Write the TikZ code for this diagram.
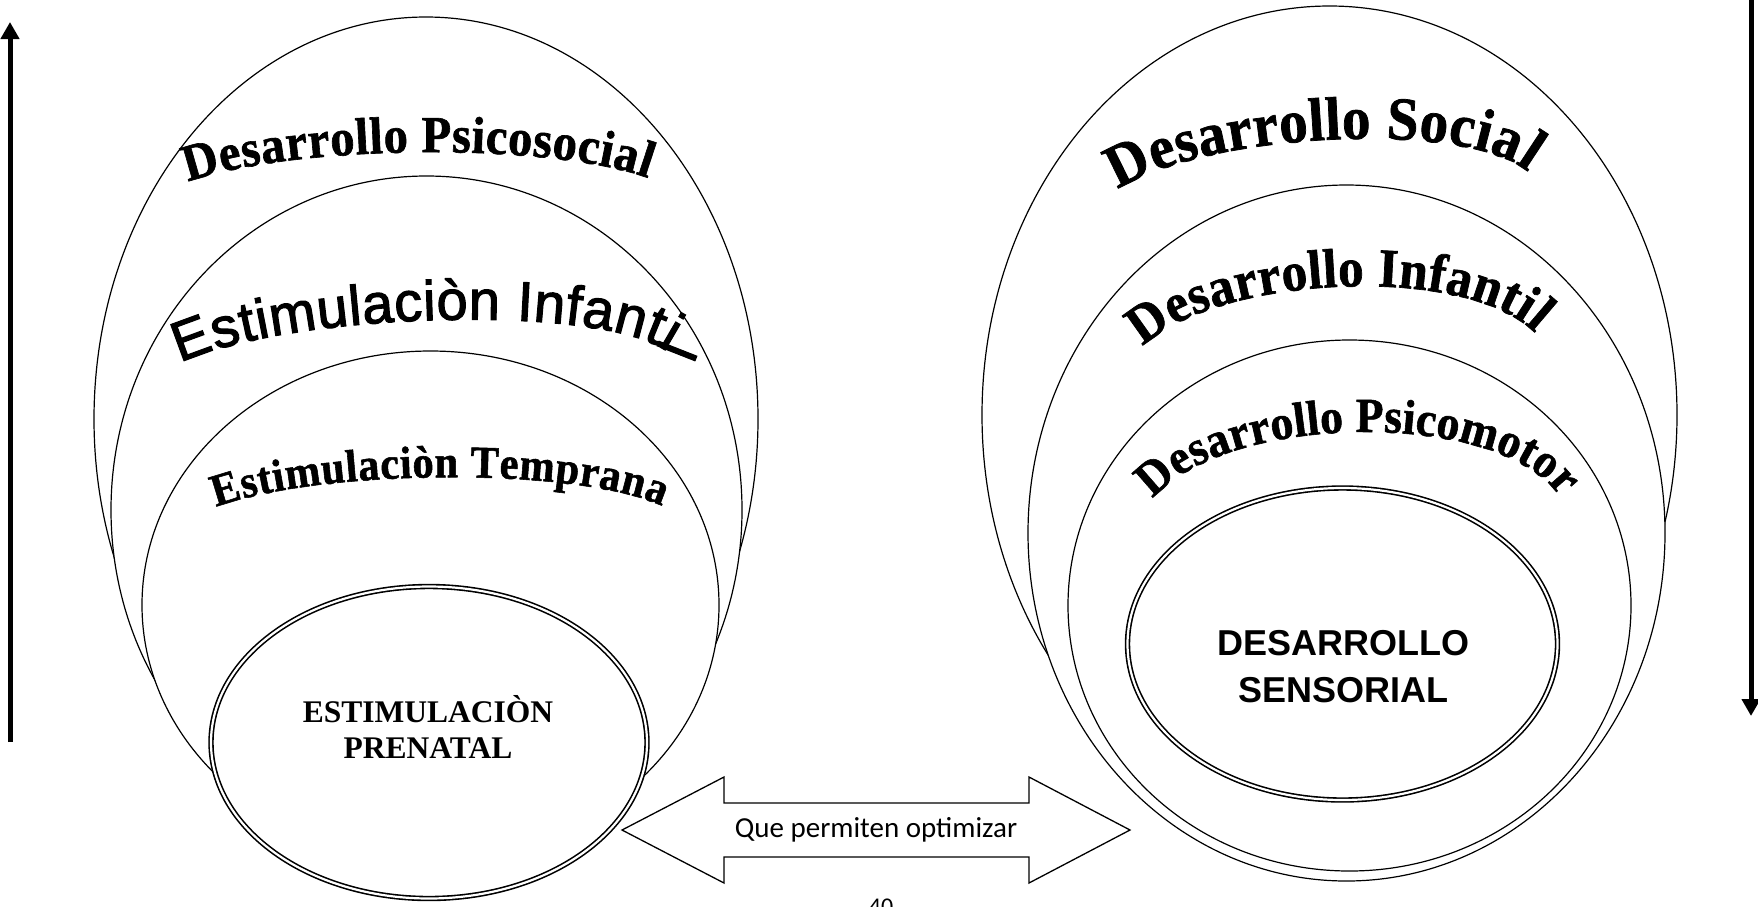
\documentclass[tikz,border=0pt]{standalone}
\usepackage{fontspec}
\usetikzlibrary{shapes.geometric,decorations.text,arrows.meta}
\newfontfamily\serfam{Liberation Serif}
\newfontfamily\serstr[FakeStretch=0.93,FakeBold=1.2]{Liberation Serif}
\newfontfamily\sanfam{Liberation Sans}
\newfontfamily\sanheavy[FakeBold=2]{Liberation Sans}
\newfontfamily\calfam{Carlito}
\begin{document}
\begin{tikzpicture}[x=1pt,y=-1pt,
  ring/.style={ellipse, draw, fill=white, line width=1.2pt, inner sep=0pt, outer sep=0pt},
  dring/.style={ellipse, draw, fill=white, double, line width=1.6pt, double distance=2.2pt, inner sep=0pt, outer sep=0pt},
  bigarrow/.style={line width=5pt, -{Triangle[length=17pt,width=18pt]}},
  arch/.style={decorate, decoration={text along path, text align={fit to path}, text={#1}}},
  centertxt/.style={anchor=base, inner sep=0pt}]
\useasboundingbox (0,0) rectangle (1758,906);

% ---------- left group ----------
\node (A) [ring, minimum width=664pt, minimum height=804pt] at (426,419) {};
\node (B) [ring, minimum width=631pt, minimum height=668pt] at (426.5,510) {};
\node (C) [ring, minimum width=577pt, minimum height=508pt] at (430.5,605) {};
\node (D) [dring, minimum width=436pt, minimum height=312pt] at (429,742.5) {};

\path[arch={|\serstr\bfseries\fontsize{52}{55}\selectfont|Desarrollo Psicosocial}]
  (188,182) .. controls (290,145) and (546,141) .. (648,178);
\path[arch={|\sanheavy\fontsize{56}{60}\selectfont|Estimulaciòn Infanti}]
  (180,363) .. controls (287,313) and (597,302) .. (668,352);
\node (lEnd) [font=\sanheavy\fontsize{56}{60}\selectfont, rotate=-111.5, inner sep=0pt] at (677,351) {l};
\path[arch={|\serstr\bfseries\fontsize{45.5}{48}\selectfont|Estimulaciòn Temprana}]
  (216,507) .. controls (323,468) and (578,467) .. (662,506);

\node (p1) [centertxt, font=\serfam\bfseries\fontsize{31.5}{34}\selectfont] at (428,722) {ESTIMULACIÒN};
\node (p2) [centertxt, font=\serfam\bfseries\fontsize{31.5}{34}\selectfont] at (428,758) {PRENATAL};

% ---------- right group ----------
\node (E) [ring, minimum width=695pt, minimum height=818pt] at (1329.5,415) {};
\node (F) [ring, minimum width=637pt, minimum height=696pt] at (1346.5,533) {};
\node (G) [ring, minimum width=563pt, minimum height=531pt] at (1349.5,605.5) {};
\node (H) [dring, minimum width=430pt, minimum height=312pt] at (1342.5,644) {};

\path[arch={|\serstr\bfseries\fontsize{61}{64}\selectfont|Desarrollo Social}]
  (1118,190) .. controls (1197,135) and (1462,117) .. (1528,172);
\path[arch={|\serstr\bfseries\fontsize{55}{58}\selectfont|Desarrollo Infantil}]
  (1143,347) .. controls (1214,276) and (1464,262) .. (1535,333);
\path[arch={|\serstr\bfseries\fontsize{49}{52}\selectfont|Desarrollo Psicomotor}]
  (1153,499) .. controls (1226,412) and (1500,408) .. (1560,497);

\node (s1) [centertxt, font=\sanfam\bfseries\fontsize{36}{40}\selectfont] at (1343,655) {DESARROLLO};
\node (s2) [centertxt, font=\sanfam\bfseries\fontsize{36}{40}\selectfont] at (1343,702) {SENSORIAL};

% ---------- double block arrow ----------
\draw[line width=1.3pt, fill=white, line join=miter]
  (622,830) -- (724,777) -- (724,803) -- (1029,803) -- (1029,777) -- (1130,830)
  -- (1029,883) -- (1029,857) -- (724,857) -- (724,883) -- cycle;
\node (q) [centertxt, font=\calfam\fontsize{29}{32}\selectfont] at (876,837) {Que permiten optimizar};

% ---------- side arrows ----------
\coordinate (lb) at (10,742);
\coordinate (lt) at (10,22);
\coordinate (rt) at (1751,-5);
\coordinate (rb) at (1751,716);
\draw[bigarrow] (lb) -- (lt);
\draw[bigarrow] (rt) -- (rb);

% page number (cut by the lower edge)
\node (pg) [centertxt, font=\calfam\fontsize{24}{26}\selectfont] at (881,914) {40};
\end{tikzpicture}
\end{document}
